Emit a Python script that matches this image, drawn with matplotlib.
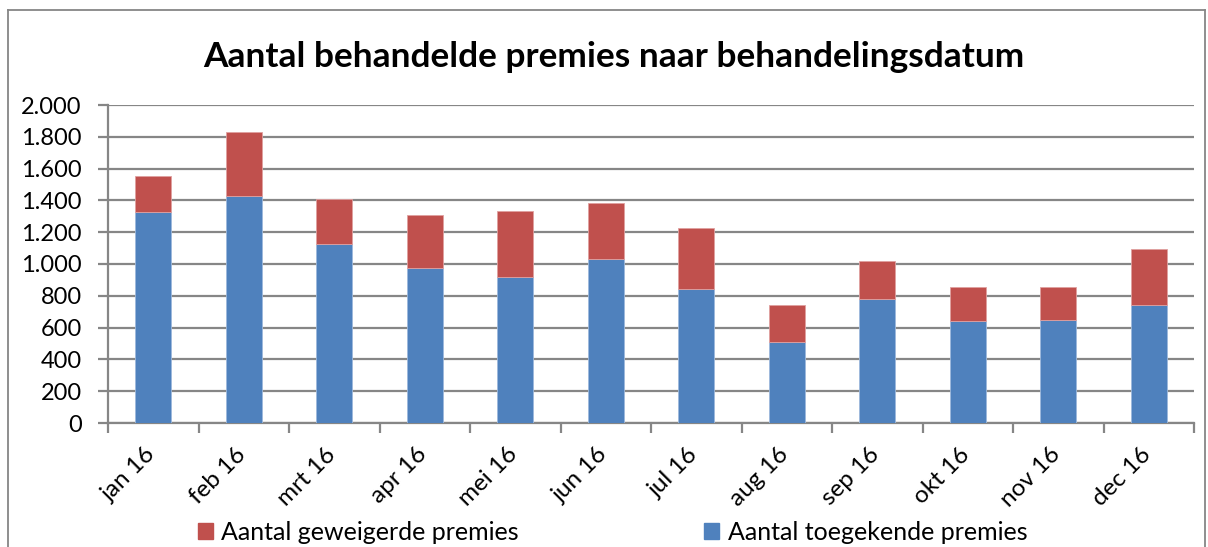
import matplotlib
matplotlib.use("Agg")
import matplotlib.pyplot as plt
from matplotlib.ticker import FuncFormatter, MultipleLocator
from matplotlib.lines import Line2D
from matplotlib.patches import Patch
from matplotlib.transforms import ScaledTranslation

months = ["jan 16", "feb 16", "mrt 16", "apr 16", "mei 16", "jun 16",
          "jul 16", "aug 16", "sep 16", "okt 16", "nov 16", "dec 16"]
toegekend = [1326, 1425, 1124, 976, 916, 1033, 840, 511, 779, 644, 650, 743]
geweigerd = [225, 408, 286, 333, 416, 352, 389, 232, 238, 210, 204, 353]

title = "Aantal behandelde premies naar behandelingsdatum"
label_geweigerd = "Aantal geweigerde premies"
label_toegekend = "Aantal toegekende premies"

blue = "#4F81BD"
red = "#C0504D"
grid = "#868686"

plt.rcParams['font.family'] = ['Lato', 'DejaVu Sans']

W, H = 1208, 547
fig = plt.figure(figsize=(W / 100, H / 100), dpi=100)
ax = fig.add_axes([108 / W, 1 - 423 / H, (1194 - 108) / W, (423 - 105) / H])

x = list(range(len(months)))
ax.bar(x, toegekend, width=0.4, color=blue, edgecolor="#9DB9DC", linewidth=0.6, zorder=3)
ax.bar(x, geweigerd, bottom=toegekend, width=0.4, color=red, edgecolor="#E0A0A0", linewidth=0.6, zorder=3)

ax.set_xlim(-0.5, len(months) - 0.5)
ax.set_ylim(0, 2000)
ax.yaxis.set_major_locator(MultipleLocator(200))
ax.yaxis.set_major_formatter(FuncFormatter(lambda v, p: f"{int(v):,}".replace(",", ".")))
ax.grid(axis="y", color=grid, linewidth=1.6, zorder=0)
ax.set_axisbelow(True)

for s in ["top", "right"]:
    ax.spines[s].set_visible(False)
ax.spines["left"].set_color(grid)
ax.spines["bottom"].set_color(grid)
ax.spines["left"].set_linewidth(1.6)
ax.spines["bottom"].set_linewidth(1.6)

ax.set_xticks([i - 0.5 for i in range(len(months) + 1)], minor=False)
ax.set_xticklabels([])
ax.tick_params(axis="x", which="major", length=7, width=1.6, color=grid, direction="out")
ax.set_xticks(x, minor=True)
ax.set_xticklabels(months, minor=True, rotation=45, ha="right", va="top",
                   rotation_mode="anchor", fontsize=17.5)
ax.tick_params(axis="x", which="minor", length=0, pad=15)
shift = ScaledTranslation(-9 / 100, 0, fig.dpi_scale_trans)
for lbl in ax.get_xticklabels(minor=True):
    lbl.set_transform(lbl.get_transform() + shift)
ax.tick_params(axis="y", length=7, width=1.6, color=grid, labelsize=17, pad=12)

fig.text(0.5 * (203 + 1025) / W, 1 - 57 / H, title, ha="center", va="center",
         fontsize=25.4, fontweight="bold")

handles = [Patch(color=red), Patch(color=blue)]
fig.legend(handles, [label_geweigerd, label_toegekend], loc="center",
           bbox_to_anchor=(0.5 * (200 + 1025) / W, 1 - 532 / H), ncol=2, frameon=False,
           fontsize=18, handlelength=0.6, handleheight=0.6, columnspacing=7.4,
           handletextpad=0.35)

# outer chart border
top = 1 - 10 / H
fig.add_artist(Line2D([8 / W, 8 / W], [0, top], transform=fig.transFigure, color=grid, linewidth=1.3))
fig.add_artist(Line2D([8 / W, 1205 / W], [top, top], transform=fig.transFigure, color=grid, linewidth=1.3))
fig.add_artist(Line2D([1205 / W, 1205 / W], [0, top], transform=fig.transFigure, color=grid, linewidth=1.3))

fig.savefig("out.png", dpi=100)
